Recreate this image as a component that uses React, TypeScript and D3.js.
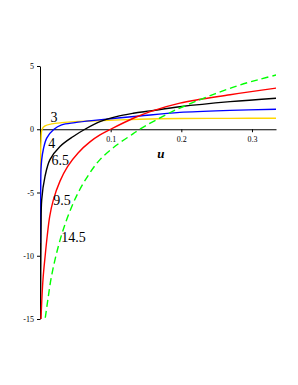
import React, { useRef, useEffect } from 'react';
import * as d3 from 'd3';

type Pt = [number, number];

// curve values, [u, value]
const curve3: Pt[] = [
  [0.0003, -4], [0.0007, -2.4], [0.0014, -1.0], [0.003, 0], [0.0071, 0.26],
  [0.0166, 0.42], [0.0307, 0.52], [0.0495, 0.6], [0.072, 0.65], [0.141, 0.79],
  [0.198, 0.85], [0.269, 0.86], [0.335, 0.87],
];
const curve4: Pt[] = [
  [0.0003, -9], [0.001, -4.8], [0.0014, -3.2], [0.0024, -2.4], [0.0047, -1.6],
  [0.0095, -0.7], [0.0198, 0], [0.0307, 0.34], [0.0495, 0.52], [0.0731, 0.68],
  [0.141, 1.05], [0.198, 1.33], [0.269, 1.49], [0.335, 1.58],
];
const curve65: Pt[] = [
  [0.0007, -15], [0.0015, -8], [0.0024, -5.58], [0.0071, -3.73], [0.0141, -2.4],
  [0.0283, -1.36], [0.0471, -0.57], [0.0636, 0], [0.0849, 0.6], [0.108, 1.0],
  [0.132, 1.26], [0.156, 1.45], [0.198, 1.78], [0.269, 2.18], [0.335, 2.46],
];
const curve95: Pt[] = [
  [0.0014, -15], [0.0042, -11.9], [0.0075, -9.9], [0.0103, -8.4], [0.0137, -6.9],
  [0.0188, -5.6], [0.0283, -4.1], [0.039, -2.95], [0.0542, -1.85], [0.0707, -1.0],
  [0.0849, -0.45], [0.1, 0], [0.132, 0.87], [0.156, 1.4], [0.198, 2.07],
  [0.269, 2.73], [0.335, 3.26],
];
const curve145: Pt[] = [
  [0.0075, -14.9], [0.0113, -13.4], [0.016, -11.7], [0.023, -9.9], [0.0325, -8.0],
  [0.0443, -6.2], [0.056, -4.8], [0.07, -3.5], [0.0849, -2.4], [0.1085, -1.25],
  [0.132, -0.35], [0.141, 0], [0.151, 0.33], [0.165, 0.75], [0.189, 1.45],
  [0.226, 2.33], [0.255, 2.95], [0.283, 3.5], [0.311, 3.95], [0.335, 4.3],
];

const series = [
  { name: '3', data: curve3, color: '#FFD700', dash: null },
  { name: '4', data: curve4, color: '#0000FF', dash: null },
  { name: '6.5', data: curve65, color: '#000000', dash: null },
  { name: '9.5', data: curve95, color: '#FF0000', dash: null },
  { name: '14.5', data: curve145, color: '#00FF00', dash: '7,4' },
];

const xTicks = [0.1, 0.2, 0.3];
const yTicks = [-15, -10, -5, 0, 5];

// label anchor points [u, value]
const labelPos: Record<string, Pt> = {
  '3': [0.015, 0.55],
  '4': [0.0117, -1.45],
  '6.5': [0.0164, -2.8],
  '9.5': [0.0187, -5.95],
  '14.5': [0.03, -8.9],
};

const App: React.FC = () => {
  const svgRef = useRef<SVGSVGElement | null>(null);

  useEffect(() => {
    if (!svgRef.current) return;
    const width = 298;
    const height = 385;

    d3.select(svgRef.current).selectAll('*').remove();
    const svg = d3.select(svgRef.current)
      .attr('width', width)
      .attr('height', height);

    const x = d3.scaleLinear().domain([0, 0.334]).range([40, 276]);
    const y = d3.scaleLinear().domain([-15, 5]).range([319, 66]);

    svg.append('defs').append('clipPath')
      .attr('id', 'plotClip')
      .append('rect')
      .attr('x', x(0))
      .attr('y', y(5))
      .attr('width', x(0.334) - x(0))
      .attr('height', y(-15) - y(5));

    const font = '"Liberation Serif", "Times New Roman", serif';

    // Axes
    const xAxis = d3.axisBottom(x)
      .tickValues(xTicks)
      .tickSize(3)
      .tickSizeOuter(0)
      .tickFormat(d => String(d));
    const gx = svg.append('g')
      .attr('transform', `translate(0,${y(0)})`)
      .call(xAxis);
    gx.select('.domain').attr('stroke', '#000').attr('stroke-width', 1.2);
    gx.selectAll('.tick line').attr('stroke', '#000');
    gx.selectAll('.tick text')
      .attr('font-family', font)
      .attr('font-size', '8px')
      .attr('fill', '#000')
      .attr('dy', '0.9em');

    const yAxis = d3.axisLeft(y)
      .tickValues(yTicks)
      .tickSize(3)
      .tickSizeOuter(0)
      .tickFormat(d => String(d));
    const gy = svg.append('g')
      .attr('transform', `translate(${x(0)},0)`)
      .call(yAxis);
    gy.select('.domain').attr('stroke', '#000').attr('stroke-width', 1);
    gy.selectAll('.tick line').attr('stroke', '#000');
    gy.selectAll('.tick text')
      .attr('font-family', font)
      .attr('font-size', '8px')
      .attr('fill', '#000');

    // Curves
    const line = d3.line<Pt>()
      .x(d => x(d[0]))
      .y(d => y(d[1]))
      .curve(d3.curveCatmullRom.alpha(0.5));

    const plot = svg.append('g').attr('clip-path', 'url(#plotClip)');
    series.forEach(s => {
      const p = plot.append('path')
        .datum(s.data)
        .attr('fill', 'none')
        .attr('stroke', s.color)
        .attr('stroke-width', 1.4)
        .attr('d', line);
      if (s.dash) p.attr('stroke-dasharray', s.dash);
    });

    // Curve labels
    series.forEach(s => {
      const [u, v] = labelPos[s.name];
      svg.append('text')
        .attr('x', x(u))
        .attr('y', y(v))
        .attr('font-family', font)
        .attr('font-size', '14px')
        .attr('fill', '#000')
        .text(s.name);
    });

    // axis title
    svg.append('text')
      .attr('x', x(0.166))
      .attr('y', 158)
      .attr('font-family', font)
      .attr('font-size', '13px')
      .attr('font-style', 'italic')
      .attr('font-weight', 'bold')
      .attr('fill', '#000')
      .text('u');
  }, []);

  return (
    <svg
      ref={svgRef}
      style={{ position: 'absolute', left: 0, top: 0, display: 'block', background: '#fff' }}
    />
  );
};

export default App;
